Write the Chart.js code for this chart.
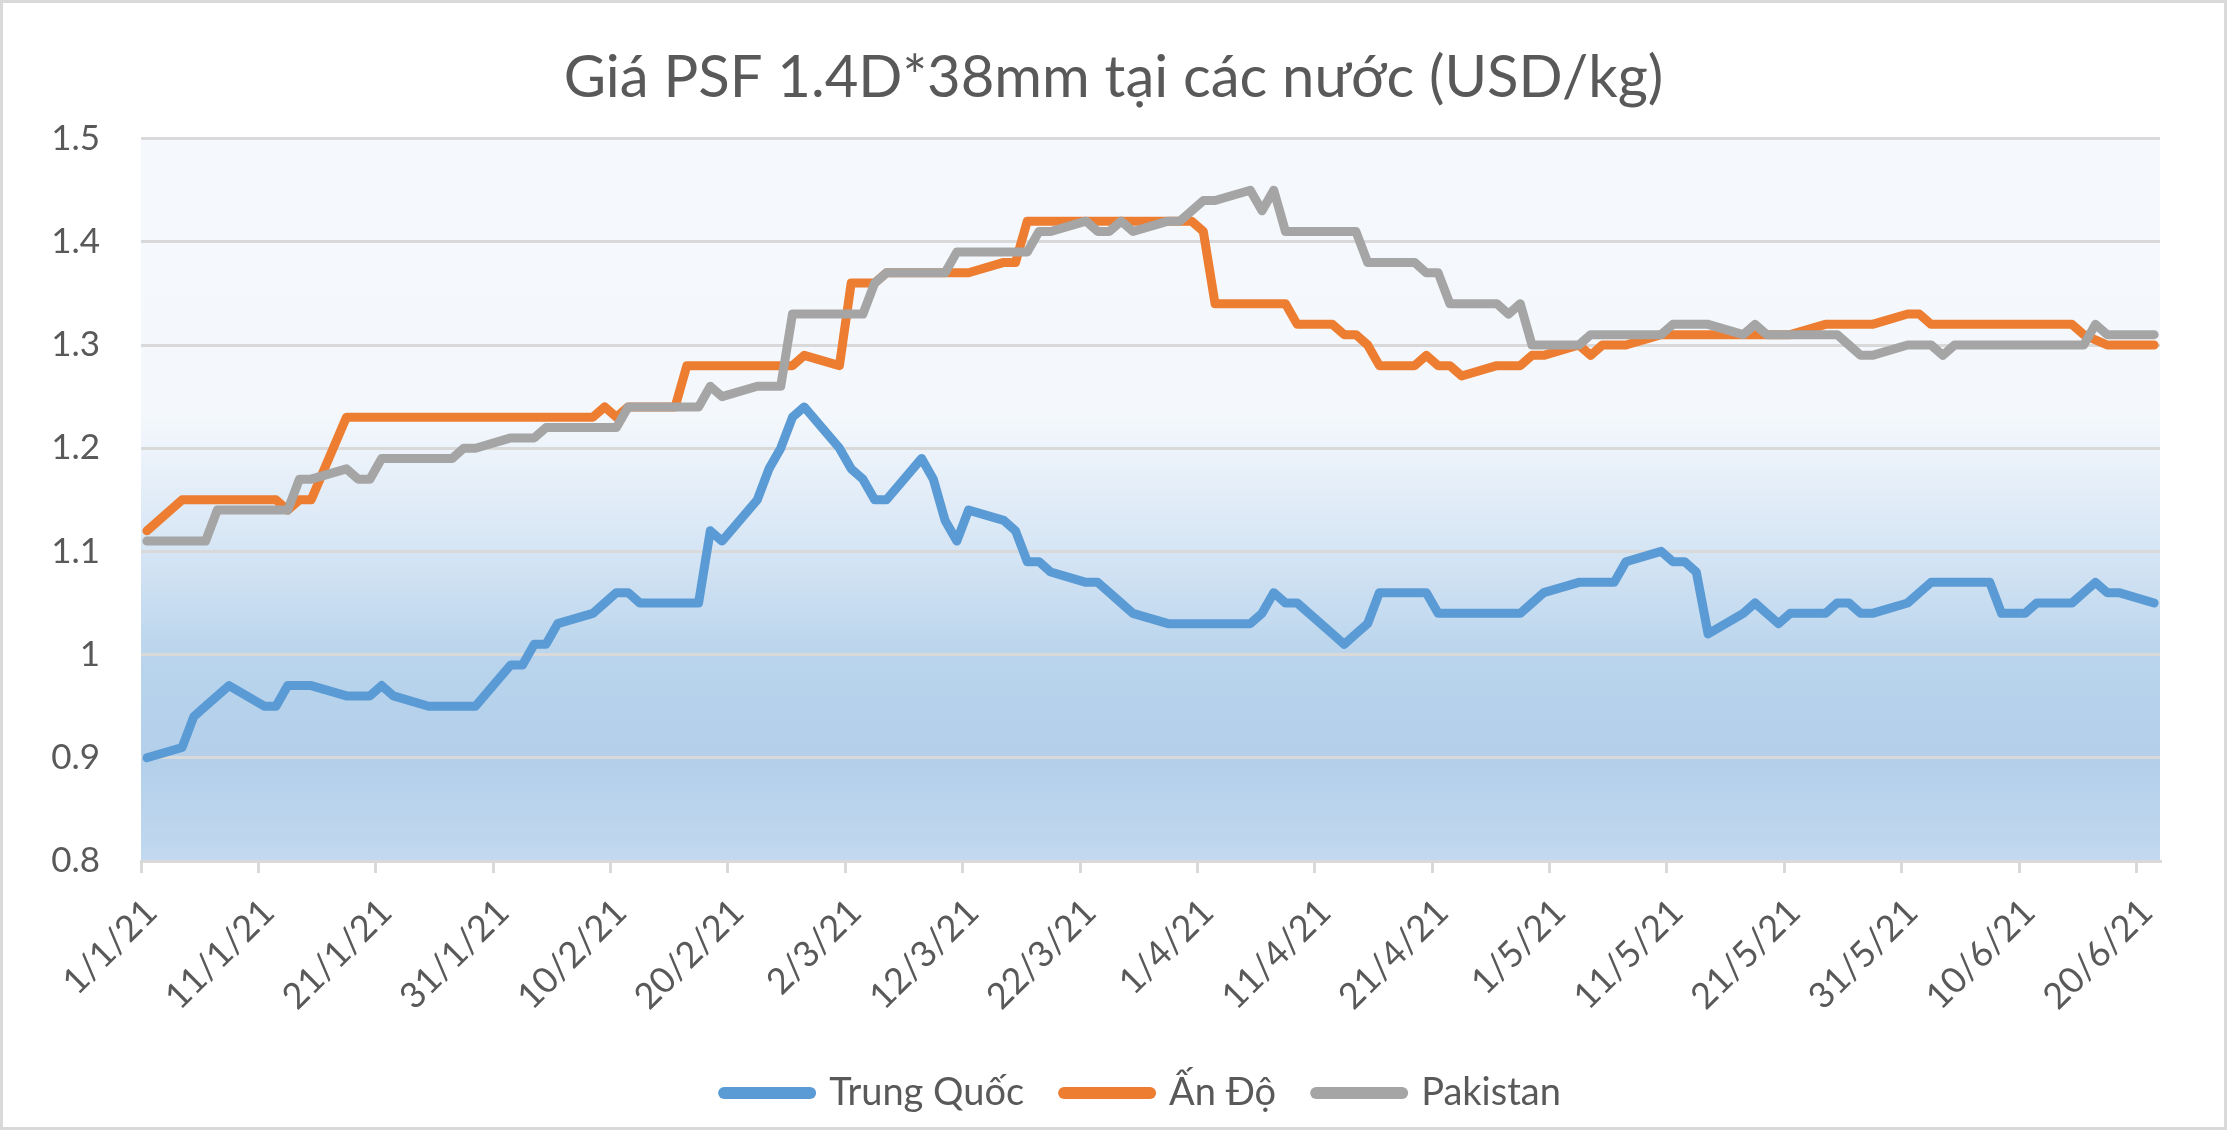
<!DOCTYPE html>
<html>
<head>
<meta charset="utf-8">
<title>Giá PSF 1.4D*38mm</title>
<script src="https://cdn.jsdelivr.net/npm/chart.js@4.4.0/dist/chart.umd.min.js"></script>
<style>
  html, body { margin: 0; padding: 0; background: #fff; }
  #wrap { width: 2227px; height: 1130px; }
</style>
</head>
<body>
<div id="wrap"><canvas id="psfChart" width="2227" height="1130"></canvas></div>
<script>
// Observation dates (weekdays, d/m of 2021)
const dates = [
  '1/1', '4/1', '5/1', '6/1', '7/1', '8/1', '11/1', '12/1', '13/1', '14/1', '15/1',
  '18/1', '19/1', '20/1', '21/1', '22/1', '25/1', '26/1', '27/1', '28/1', '29/1',
  '1/2', '2/2', '3/2', '4/2', '5/2', '8/2', '9/2', '10/2', '11/2', '12/2',
  '15/2', '16/2', '17/2', '18/2', '19/2', '22/2', '23/2', '24/2', '25/2', '26/2',
  '1/3', '2/3', '3/3', '4/3', '5/3', '8/3', '9/3', '10/3', '11/3', '12/3',
  '15/3', '16/3', '17/3', '18/3', '19/3', '22/3', '23/3', '24/3', '25/3', '26/3',
  '29/3', '30/3', '31/3', '1/4', '2/4', '5/4', '6/4', '7/4', '8/4', '9/4',
  '12/4', '13/4', '14/4', '15/4', '16/4', '19/4', '20/4', '21/4', '22/4', '23/4',
  '26/4', '27/4', '28/4', '29/4', '30/4', '3/5', '4/5', '5/5', '6/5', '7/5',
  '10/5', '11/5', '12/5', '13/5', '14/5', '17/5', '18/5', '19/5', '20/5', '21/5',
  '24/5', '25/5', '26/5', '27/5', '28/5', '31/5', '1/6', '2/6', '3/6', '4/6',
  '7/6', '8/6', '9/6', '10/6', '11/6', '14/6', '15/6', '16/6', '17/6', '18/6', '21/6'
];

const trungQuoc = [
  0.90, 0.91, 0.94, 0.95, 0.96, 0.97, 0.95, 0.95, 0.97, 0.97, 0.97,
  0.96, 0.96, 0.96, 0.97, 0.96, 0.95, 0.95, 0.95, 0.95, 0.95,
  0.99, 0.99, 1.01, 1.01, 1.03, 1.04, 1.05, 1.06, 1.06, 1.05,
  1.05, 1.05, 1.05, 1.12, 1.11, 1.15, 1.18, 1.20, 1.23, 1.24,
  1.20, 1.18, 1.17, 1.15, 1.15, 1.19, 1.17, 1.13, 1.11, 1.14,
  1.13, 1.12, 1.09, 1.09, 1.08, 1.07, 1.07, 1.06, 1.05, 1.04,
  1.03, 1.03, 1.03, 1.03, 1.03, 1.03, 1.04, 1.06, 1.05, 1.05,
  1.02, 1.01, 1.02, 1.03, 1.06, 1.06, 1.06, 1.04, 1.04, 1.04,
  1.04, 1.04, 1.04, 1.05, 1.06, 1.07, 1.07, 1.07, 1.07, 1.09,
  1.10, 1.09, 1.09, 1.08, 1.02, 1.04, 1.05, 1.04, 1.03, 1.04,
  1.04, 1.05, 1.05, 1.04, 1.04, 1.05, 1.06, 1.07, 1.07, 1.07,
  1.07, 1.04, 1.04, 1.04, 1.05, 1.05, 1.06, 1.07, 1.06, 1.06, 1.05
];

const anDo = [
  1.12, 1.15, 1.15, 1.15, 1.15, 1.15, 1.15, 1.15, 1.14, 1.15, 1.15,
  1.23, 1.23, 1.23, 1.23, 1.23, 1.23, 1.23, 1.23, 1.23, 1.23,
  1.23, 1.23, 1.23, 1.23, 1.23, 1.23, 1.24, 1.23, 1.24, 1.24,
  1.24, 1.28, 1.28, 1.28, 1.28, 1.28, 1.28, 1.28, 1.28, 1.29,
  1.28, 1.36, 1.36, 1.36, 1.37, 1.37, 1.37, 1.37, 1.37, 1.37,
  1.38, 1.38, 1.42, 1.42, 1.42, 1.42, 1.42, 1.42, 1.42, 1.42,
  1.42, 1.42, 1.42, 1.41, 1.34, 1.34, 1.34, 1.34, 1.34, 1.32,
  1.32, 1.31, 1.31, 1.30, 1.28, 1.28, 1.29, 1.28, 1.28, 1.27,
  1.28, 1.28, 1.28, 1.29, 1.29, 1.30, 1.29, 1.30, 1.30, 1.30,
  1.31, 1.31, 1.31, 1.31, 1.31, 1.31, 1.31, 1.31, 1.31, 1.31,
  1.32, 1.32, 1.32, 1.32, 1.32, 1.33, 1.33, 1.32, 1.32, 1.32,
  1.32, 1.32, 1.32, 1.32, 1.32, 1.32, 1.31, 1.305, 1.30, 1.30, 1.30
];

const pakistan = [
  1.11, 1.11, 1.11, 1.11, 1.14, 1.14, 1.14, 1.14, 1.14, 1.17, 1.17,
  1.18, 1.17, 1.17, 1.19, 1.19, 1.19, 1.19, 1.19, 1.20, 1.20,
  1.21, 1.21, 1.21, 1.22, 1.22, 1.22, 1.22, 1.22, 1.24, 1.24,
  1.24, 1.24, 1.24, 1.26, 1.25, 1.26, 1.26, 1.26, 1.33, 1.33,
  1.33, 1.33, 1.33, 1.36, 1.37, 1.37, 1.37, 1.37, 1.39, 1.39,
  1.39, 1.39, 1.39, 1.41, 1.41, 1.42, 1.41, 1.41, 1.42, 1.41,
  1.42, 1.42, 1.43, 1.44, 1.44, 1.45, 1.43, 1.45, 1.41, 1.41,
  1.41, 1.41, 1.41, 1.38, 1.38, 1.38, 1.37, 1.37, 1.34, 1.34,
  1.34, 1.33, 1.34, 1.30, 1.30, 1.30, 1.31, 1.31, 1.31, 1.31,
  1.31, 1.32, 1.32, 1.32, 1.32, 1.31, 1.32, 1.31, 1.31, 1.31,
  1.31, 1.31, 1.30, 1.29, 1.29, 1.30, 1.30, 1.30, 1.29, 1.30,
  1.30, 1.30, 1.30, 1.30, 1.30, 1.30, 1.30, 1.32, 1.31, 1.31, 1.31
];

const xTickLabels = [
  '1/1/21', '11/1/21', '21/1/21', '31/1/21', '10/2/21', '20/2/21', '2/3/21', '12/3/21', '22/3/21',
  '1/4/21', '11/4/21', '21/4/21', '1/5/21', '11/5/21', '21/5/21', '31/5/21', '10/6/21', '20/6/21'
];
const yTickLabels = ['0.8', '0.9', '1', '1.1', '1.2', '1.3', '1.4', '1.5'];

const seriesNames = ['Trung Quốc', 'Ấn Độ', 'Pakistan'];
const seriesColors = ['#5B9BD5', '#ED7D31', '#A5A5A5'];

// date axis: one unit per day, each point sits in the middle of its day
const DAY = 86400000;
const dayIndex = s => {
  const [d, m] = s.split('/').map(Number);
  return (Date.UTC(2021, m - 1, d) - Date.UTC(2021, 0, 1)) / DAY;
};
const xs = dates.map(s => dayIndex(s) + 0.5);
const toPoints = values => values.map((v, i) => ({ x: xs[i], y: v }));

const textColor = '#595959';
const gridColor = '#D9D9D9';
Chart.defaults.font.family = 'Lato, "Noto Sans", sans-serif';
Chart.defaults.color = textColor;

const plotBackground = {
  id: 'plotBackground',
  afterLayout(chart) {
    // title is centred on the whole picture, legend a little left of the plot centre
    chart.titleBlock.left = 0;
    chart.titleBlock.right = chart.width;
    chart.legend.left -= 8;
    chart.legend.right -= 8;
  },
  beforeDraw(chart) {
    const { ctx, chartArea: a, width, height } = chart;
    ctx.save();
    ctx.fillStyle = '#ffffff';
    ctx.fillRect(0, 0, width, height);
    const g = ctx.createLinearGradient(0, a.top, 0, a.bottom);
    g.addColorStop(0, '#F5F9FD');
    g.addColorStop(0.38, '#F4F8FC');
    g.addColorStop(0.44, '#EBF2FA');
    g.addColorStop(0.58, '#D4E4F4');
    g.addColorStop(0.72, '#B9D4EC');
    g.addColorStop(0.86, '#B3CFEA');
    g.addColorStop(1, '#C2D9EF');
    ctx.fillStyle = g;
    ctx.fillRect(a.left, a.top, a.right - a.left, a.bottom - a.top);
    ctx.restore();
  },
  afterDraw(chart) {
    const { ctx, width, height } = chart;
    ctx.save();
    ctx.strokeStyle = gridColor;
    ctx.lineWidth = 3;
    ctx.strokeRect(1.5, 1.5, width - 3, height - 3);
    ctx.restore();
  }
};

const datasets = [trungQuoc, anDo, pakistan].map((values, i) => ({
  label: seriesNames[i],
  data: toPoints(values),
  borderColor: seriesColors[i],
  backgroundColor: seriesColors[i],
  borderWidth: 9,
  borderJoinStyle: 'round',
  borderCapStyle: 'round',
  pointRadius: 0,
  tension: 0,
  order: 3 - i // grey drawn on top, like the original
}));

new Chart(document.getElementById('psfChart'), {
  type: 'line',
  data: { datasets },
  plugins: [plotBackground],
  options: {
    responsive: false,
    devicePixelRatio: 1,
    animation: false,
    layout: { padding: { left: 45, right: 67, top: 0, bottom: 8 } },
    plugins: {
      title: {
        display: true,
        text: 'Giá PSF 1.4D*38mm tại các nước (USD/kg)',
        color: textColor,
        font: { size: 58, weight: 'normal' },
        padding: { top: 43, bottom: 26 }
      },
      legend: {
        position: 'bottom',
        fullSize: false,
        labels: {
          color: textColor,
          font: { size: 38 },
          usePointStyle: true,
          pointStyle: 'line',
          pointStyleWidth: 86,
          padding: 40,
          sort: (a, b) => a.datasetIndex - b.datasetIndex,
          generateLabels: chart => Chart.defaults.plugins.legend.labels.generateLabels(chart)
            .map(item => ({ ...item, lineWidth: 12, lineCap: 'round', pointStyle: 'line' }))
        }
      },
      tooltip: { enabled: false }
    },
    scales: {
      x: {
        type: 'linear',
        min: 0,
        max: 172,
        afterBuildTicks: scale => {
          scale.ticks = xTickLabels.map((_, i) => ({ value: i * 10 }));
        },
        afterFit: scale => { scale.height = 173; },
        ticks: {
          autoSkip: false,
          minRotation: 45,
          maxRotation: 45,
          padding: 18,
          labelOffset: 10,
          font: { size: 36 },
          color: textColor,
          callback: v => xTickLabels[Math.round(v / 10)]
        },
        grid: { drawOnChartArea: false, drawTicks: true, tickLength: 12, color: gridColor, lineWidth: 3 },
        border: { display: true, color: gridColor, width: 3 }
      },
      y: {
        min: 0.8,
        max: 1.5,
        afterFit: scale => { scale.width = 96; },
        ticks: {
          stepSize: 0.1,
          padding: 41,
          font: { size: 35 },
          color: textColor,
          callback: v => yTickLabels[Math.round((v - 0.8) * 10)]
        },
        grid: { color: gridColor, lineWidth: 3, drawTicks: false },
        border: { display: false }
      }
    }
  }
});
</script>
</body>
</html>
